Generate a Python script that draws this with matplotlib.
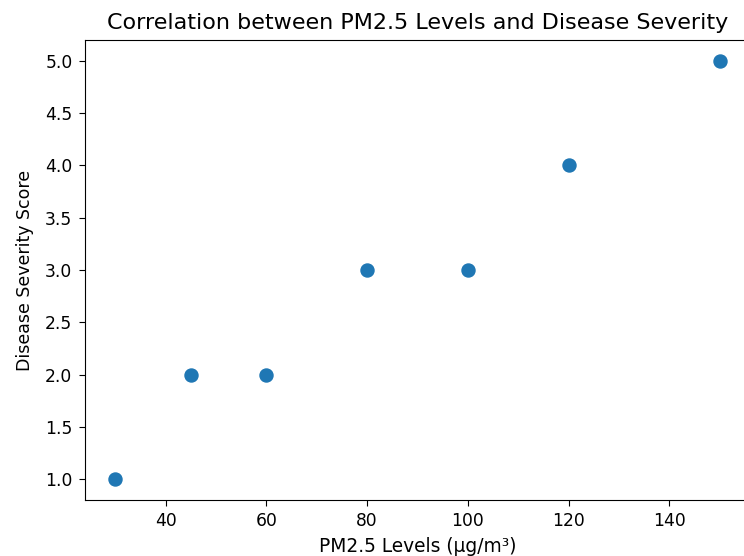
import matplotlib
matplotlib.use("Agg")
import matplotlib.pyplot as plt

pm25 = [30, 45, 60, 80, 100, 120, 150]
severity = [1, 2, 2, 3, 3, 4, 5]

plt.rcParams['font.size'] = 12.3

fig = plt.figure(figsize=(7.44, 5.56), dpi=100)
ax = fig.add_axes([85 / 744, 56 / 556, 665 / 744, 460 / 556])

ax.scatter(pm25, severity, s=88, color='#1f77b4')
ax.set_title('Correlation between PM2.5 Levels and Disease Severity', fontsize=16, pad=8)
ax.set_xlabel('PM2.5 Levels (µg/m³)', fontsize=13.4, labelpad=5)
ax.set_ylabel('Disease Severity Score', fontsize=12.5, labelpad=8)
ax.tick_params(length=4, pad=5)

fig.savefig('out.png', dpi=100)
